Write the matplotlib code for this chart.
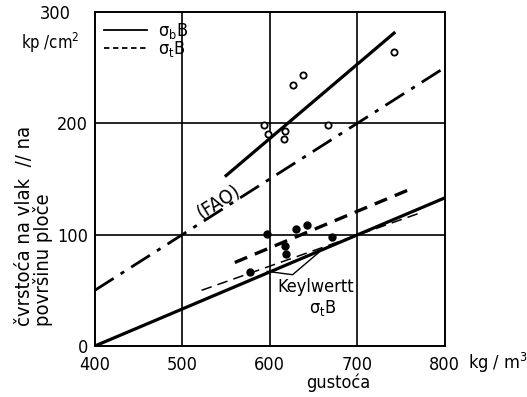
import numpy as np
import matplotlib.pyplot as plt
from matplotlib.lines import Line2D

plt.rcParams['font.family'] = ['DejaVu Sans']
plt.rcParams['font.stretch'] = 'condensed'

# open circles: sigma_b B measurements
bend_x = [593, 598, 617, 616, 627, 638, 667, 742]
bend_y = [198, 190, 193, 186, 234, 243, 198, 264]
# filled dots: sigma_t B measurements
tens_x = [577, 597, 617, 619, 630, 642, 671]
tens_y = [66, 101, 90, 83, 105, 109, 98]

# regression / reference lines (end points)
bend_line_x, bend_line_y = [550, 742], [153, 281]
fao_x, fao_y = [400, 800], [50, 250]
tens_line_x, tens_line_y = [400, 800], [0, 133]
tens_dash_x, tens_dash_y = [560, 758], [75, 140]
keyl_x, keyl_y = [522, 770], [50, 119]
bracket_x, bracket_y = [597, 626, 656], [67, 64, 84]

xticks = [400, 500, 600, 700, 800]
yticks = [0, 100, 200]

fig = plt.figure(figsize=(5.27, 3.97), dpi=100)
ax = fig.add_axes([0.180, 0.1285, 0.664, 0.8415])
ax.set_xlim(400, 800)
ax.set_ylim(0, 300)

for x in xticks[1:-1]:
    ax.axvline(x, color='black', lw=1.2, zorder=1)
for y in [100, 200]:
    ax.axhline(y, color='black', lw=1.2, zorder=1)

ax.plot(bend_line_x, bend_line_y, color='black', lw=2.3)
ax.plot(fao_x, fao_y, color='black', lw=2.0, dashes=(8, 3, 1.5, 3))
ax.plot(tens_line_x, tens_line_y, color='black', lw=2.3)
ax.plot(tens_dash_x, tens_dash_y, color='black', lw=2.4, dashes=(4, 2.5))
ax.plot(keyl_x, keyl_y, color='black', lw=1.1, dashes=(7, 4))
ax.plot(bracket_x, bracket_y, color='black', lw=1.0)

ax.plot(bend_x, bend_y, 'o', ms=4.5, mfc='white', mec='black', mew=1.3)
ax.plot(tens_x, tens_y, 'o', ms=5, color='black')

ax.text(541, 130, '(FAO)', rotation=32, fontsize=14, ha='center', va='center')
ax.text(652, 53, 'Keylwertt', fontsize=13, ha='center', va='center')
ax.text(660, 34, r'$\mathrm{\sigma_t}$B', fontsize=13, ha='center', va='center')

ax.set_xticks(xticks)
ax.set_yticks(yticks)
ax.tick_params(axis='y', length=0, labelsize=13, pad=5)
ax.tick_params(axis='x', length=0, labelsize=13, pad=7)
for s in ax.spines.values():
    s.set_linewidth(1.4)

handles = [Line2D([], [], color='black', lw=1.3),
           Line2D([], [], color='black', lw=1.3, dashes=(3, 2))]
ax.legend(handles, [r'$\mathrm{\sigma_b}$B', r'$\mathrm{\sigma_t}$B'], loc='upper left',
          frameon=False, fontsize=13, handlelength=2.4, labelspacing=-0.1,
          borderaxespad=0.1, handletextpad=0.6)

fig.text(0.105, 0.965, '300', fontsize=13, ha='center', va='center')
fig.text(0.095, 0.893, r'kp /cm$^2$', fontsize=12, ha='center', va='center')
fig.text(0.888, 0.085, r'kg / m$^3$', fontsize=13, ha='left', va='center')
fig.text(0.641, 0.035, 'gustoća', fontsize=13, ha='center', va='center')
fig.text(0.047, 0.18, 'čvrstoća na vlak  // na', rotation=90, fontsize=14.5,
         ha='center', va='bottom')
fig.text(0.081, 0.18, 'površinu ploče', rotation=90, fontsize=14.5,
         ha='center', va='bottom')

fig.savefig('out.png', dpi=100)
